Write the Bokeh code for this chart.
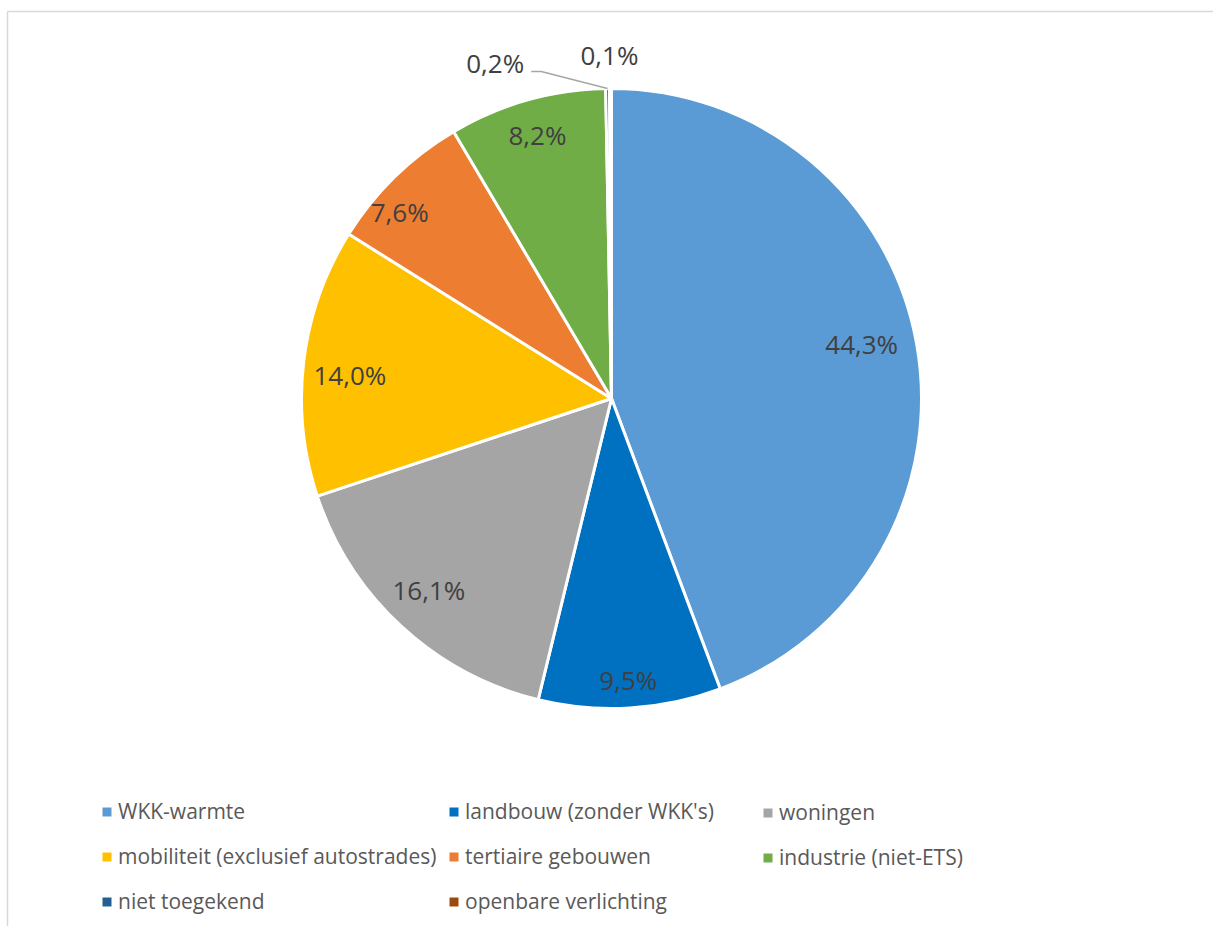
import numpy as np
from bokeh.plotting import figure
from bokeh.models import ColumnDataSource, Range1d, Legend, LegendItem, FixedTicker
from bokeh.core.properties import value
from bokeh.embed import file_html
from bokeh.resources import INLINE

# ---------------- data ----------------
categories = ["WKK-warmte", "landbouw (zonder WKK's)", "woningen",
              "mobiliteit (exclusief autostrades)", "tertiaire gebouwen",
              "industrie (niet-ETS)", "niet toegekend", "openbare verlichting"]
shares = [44.3, 9.5, 16.1, 14.0, 7.6, 8.2, 0.2, 0.1]
colors = ["#5B9BD5", "#0070C0", "#A5A5A5", "#FFC000", "#ED7D31",
          "#70AD47", "#255E91", "#9E480E"]
legend_columns = [[0, 3, 6], [1, 4, 7], [2, 5]]

# ---------------- layout (picture pixels, figure origin top-left) ----------------
W, H = 1213, 926
FL, FT = 7, 11          # frame left/top
FR, FB = W, H           # frame right/bottom
CX, CY = 611, -398      # pie centre (y negated px)
R = 310
# label distance from centre as a fraction of the radius (Excel "best fit" look)
label_radius = [0.83, 0.91, 0.855, 0.85, 0.90, 0.875, 1.10, 1.10]
# small pixel nudges of the labels: (dx, dy_down)
label_nudge = {0: (-3, -9), 2: (-3, -3), 3: (0, 8), 4: (-17, 13), 5: (0, -3),
               6: (-112, 5), 7: (-1, -3)}

p = figure(width=W, height=H, x_range=Range1d(FL, FR), y_range=Range1d(-FB, -FT),
           x_axis_location="above", y_axis_location="left",
           toolbar_location=None, output_backend="svg",
           min_border=0, min_border_top=FT, min_border_left=FL,
           background_fill_color="white", border_fill_color="white",
           outline_line_color=None)
p.grid.visible = False
for ax in (p.xaxis[0], p.yaxis[0]):
    ax.ticker = FixedTicker(ticks=[])
    ax.major_tick_in = 0
    ax.major_tick_out = 0
    ax.minor_tick_in = 0
    ax.minor_tick_out = 0
    ax.major_label_standoff = 0
    ax.axis_line_color = "#D9D9D9"
    ax.axis_line_width = 1.5

total = float(sum(shares))
cum = np.concatenate([[0.0], np.cumsum(shares)])
a_start = np.pi / 2 - 2 * np.pi * cum[:-1] / total   # clockwise from 12 o'clock
a_end = np.pi / 2 - 2 * np.pi * cum[1:] / total
mid = (a_start + a_end) / 2

src = ColumnDataSource(dict(cat=categories, share=shares, color=colors,
                            start=a_end, end=a_start))
wedges = p.wedge(x=CX, y=CY, radius=R, start_angle="start", end_angle="end",
                 fill_color="color", line_color="white", line_width=3, source=src)

# ---------------- data labels ----------------
lab_text = [f"{s:.1f}".replace(".", ",") + "%" for s in shares]
lx, ly = [], []
lead_x, lead_y = [], []
for i, s in enumerate(shares):
    dx, dy = label_nudge.get(i, (0, 0))
    x = CX + label_radius[i] * R * np.cos(mid[i]) + dx
    y = CY + label_radius[i] * R * np.sin(mid[i]) - dy
    lx.append(x)
    ly.append(y)
    if s < 1 and abs(dx) > 20:
        ex, ey = CX + R * np.cos(mid[i]), CY + R * np.sin(mid[i])
        lead_x.append([x + 36, x + 46, ex])
        lead_y.append([y - 9, y - 9, ey])

if lead_x:
    p.multi_line(xs=lead_x, ys=lead_y, line_color="#A6A6A6", line_width=1.5)

p.text(x=lx, y=ly, text=lab_text, text_align="center", text_baseline="middle",
       text_font=value("Open Sans"), text_font_size="26px", text_color="#404040")

# ---------------- legend (three columns) ----------------
col_left = [102, 449, 763]      # visible square left edge
row1_center = 811.5
item_h, gap = 30, 15
GLYPH = 15
for c, idxs in enumerate(legend_columns):
    items = [LegendItem(label=categories[i], renderers=[wedges], index=i) for i in idxs]
    n = len(idxs)
    height = n * item_h + (n - 1) * gap
    top_page = row1_center - item_h / 2
    bottom_page = top_page + height
    loc = (int(round(col_left[c] - 3 - FL)), int(round(FB - bottom_page)))
    lg = Legend(items=items, location=loc, orientation="vertical",
                glyph_width=GLYPH, glyph_height=GLYPH, label_standoff=4,
                label_height=item_h, spacing=gap, padding=0, margin=0,
                border_line_color=None, background_fill_alpha=0,
                label_text_font="Open Sans", label_text_font_size="21px",
                label_text_color="#595959")
    p.add_layout(lg)

open("out.html", "w").write(file_html(p, INLINE))
